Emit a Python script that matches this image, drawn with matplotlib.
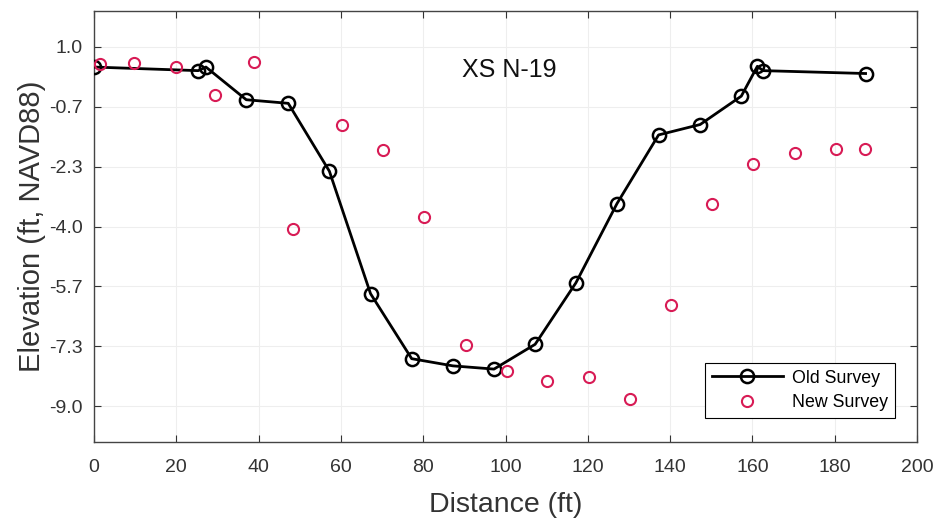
import matplotlib
matplotlib.use("Agg")
import matplotlib.pyplot as plt
import numpy as np

plt.rcParams['font.family'] = ['Liberation Sans', 'DejaVu Sans']

old_x = [0, 25.3, 27.2, 37.0, 47.2, 57.2, 67.2, 77.2, 87.2, 97.2, 107.2, 117.1, 127.1, 137.2, 147.3, 157.3, 161.2, 162.6, 187.5]
old_y = [0.44, 0.34, 0.44, -0.47, -0.57, -2.46, -5.87, -7.68, -7.88, -7.97, -7.28, -5.57, -3.36, -1.45, -1.16, -0.37, 0.46, 0.34, 0.26]

new_x = [1.5, 9.8, 19.9, 29.4, 38.9, 48.3, 60.3, 70.2, 80.2, 90.3, 100.3, 110.2, 120.2, 130.3, 140.1, 150.3, 160.2, 170.4, 180.3, 187.4]
new_y = [0.52, 0.56, 0.45, -0.34, 0.59, -4.07, -1.18, -1.88, -3.73, -7.31, -8.01, -8.29, -8.20, -8.81, -6.19, -3.37, -2.27, -1.96, -1.84, -1.85]

y_ticks = [-9.0, -7.3, -5.7, -4.0, -2.3, -0.7, 1.0]
x_ticks = [0, 20, 40, 60, 80, 100, 120, 140, 160, 180, 200]

fig = plt.figure(figsize=(9.41, 5.2), dpi=100)
ax = fig.add_axes([0.0999, 0.15, 0.8746, 0.8288])

ax.plot(old_x, old_y, '-o', color='black', lw=2, markersize=9.5,
        markerfacecolor='none', markeredgewidth=1.8, label='Old Survey', zorder=3)
ax.plot(new_x, new_y, 'o', color='#d81b55', markersize=8,
        markerfacecolor='none', markeredgewidth=1.5, label='New Survey', zorder=4)

ax.set_xlim(0, 200)
ax.set_ylim(-10, 2)
ax.set_xticks(x_ticks)
ax.set_yticks(np.linspace(-9, 1, 7))
ax.set_yticklabels([f"{v:.1f}" for v in y_ticks])
ax.tick_params(direction='in', top=True, right=True, length=5, width=0.8,
               labelsize=14, colors='#333333')
ax.tick_params(axis='x', pad=12)
ax.tick_params(axis='y', pad=8)
for s in ax.spines.values():
    s.set_color('#444444')
    s.set_linewidth(1.0)
ax.grid(True, color='#eeeeee', lw=0.8)
ax.set_axisbelow(True)

ax.set_xlabel('Distance (ft)', fontsize=20.5, color='#333333', labelpad=12)
ax.set_ylabel('Elevation (ft, NAVD88)', fontsize=21, color='#333333', labelpad=2)

ax.text(101, 0.35, 'XS N-19', fontsize=18, ha='center', va='center', color='#111111')

leg = ax.legend(loc='lower right', bbox_to_anchor=(0.973, 0.056), borderaxespad=0,
                fontsize=12.8, numpoints=1, handlelength=4.0, handletextpad=0.5,
                fancybox=False, edgecolor='black', framealpha=1, borderpad=0.4,
                labelspacing=0.4)
leg.get_frame().set_linewidth(0.8)

fig.savefig('out.png', dpi=100)
